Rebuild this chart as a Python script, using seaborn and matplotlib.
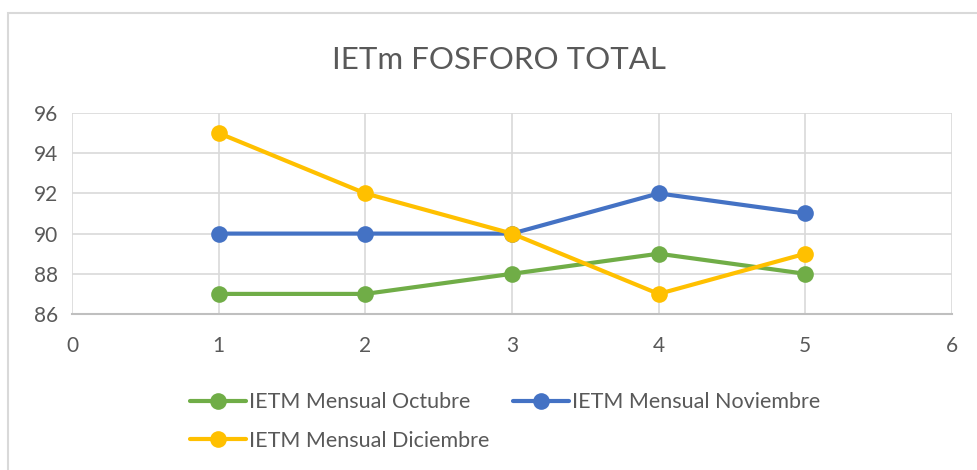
import pandas as pd
import seaborn as sns
import matplotlib.pyplot as plt
from matplotlib.patches import Rectangle

# Data
x_vals = [1, 2, 3, 4, 5]
octubre = [87, 87, 88, 89, 88]
noviembre = [90, 90, 90, 92, 91]
diciembre = [95, 92, 90, 87, 89]
series_names = ['IETM Mensual Octubre', 'IETM Mensual Noviembre', 'IETM Mensual Diciembre']
colors = ['#70AD47', '#4472C4', '#FFC000']

df = pd.DataFrame({
    'x': x_vals * 3,
    'valor': octubre + noviembre + diciembre,
    'serie': [series_names[0]] * 5 + [series_names[1]] * 5 + [series_names[2]] * 5,
})

sns.set_theme(style="white")
plt.rcParams['font.family'] = ['Lato', 'DejaVu Sans']

fig = plt.figure(figsize=(9.77, 4.70), dpi=100)
ax = fig.add_axes([0.0737, 0.3319, 0.9007, 0.4277])

# light frame around the chart area
fig.patches.append(Rectangle((0.008, -0.1), 1.2, 1.072, transform=fig.transFigure,
                             fill=False, edgecolor='#D9D9D9', linewidth=1.5, zorder=0))

sns.lineplot(data=df, x='x', y='valor', hue='serie', palette=colors, marker='o',
             markersize=12, markeredgewidth=0, linewidth=3, ax=ax, legend=False)

ax.set_xlim(0, 6)
ax.set_ylim(86, 96)
ax.set_xticks(range(0, 7))
ax.set_yticks(range(86, 97, 2))
ax.grid(True, color='#D9D9D9', linewidth=1.2)
ax.set_axisbelow(True)
for s in ['top', 'right', 'left']:
    ax.spines[s].set_visible(False)
ax.spines['bottom'].set_color('#BFBFBF')
ax.spines['bottom'].set_linewidth(1.5)
ax.tick_params(axis='both', length=0, labelsize=15, labelcolor='#595959')
ax.tick_params(axis='x', pad=16)
ax.tick_params(axis='y', pad=10)
ax.set_xlabel('')
ax.set_ylabel('')

fig.text(0.511, 0.873, 'IETm FOSFORO TOTAL', ha='center', va='center',
         fontsize=22.5, color='#595959')

handles = [plt.Line2D([], [], color=c, marker='o', markersize=12, linewidth=3,
                      markeredgewidth=0) for c in colors]
# row-wise order: Octubre, Noviembre / Diciembre
order = [0, 2, 1]
leg = fig.legend([handles[i] for i in order], [series_names[i] for i in order],
                 loc='upper left', bbox_to_anchor=(0.194, 0.165),
                 ncol=2, frameon=False, fontsize=15.5, handlelength=2.6, handletextpad=0.15,
                 columnspacing=1.1, labelspacing=0.85, borderaxespad=0, borderpad=0)
for t in leg.get_texts():
    t.set_color('#595959')

fig.savefig('out.png', dpi=100)
